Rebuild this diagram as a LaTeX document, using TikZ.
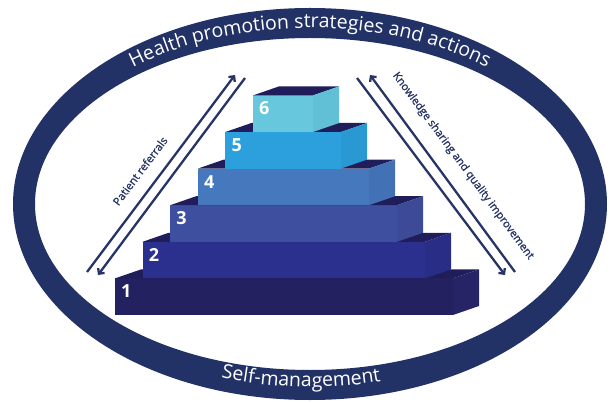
\documentclass[tikz,border=0pt]{standalone}
\usepackage{fontspec}
\setmainfont{Open Sans}
\newfontfamily\labelfont{Open Sans}[FakeBold=1.2]
\usetikzlibrary{arrows.meta,decorations.text}

\definecolor{ringblue}{HTML}{233266}
\definecolor{arrowblue}{HTML}{263466}
\definecolor{topblue}{HTML}{1F1E5A}
\definecolor{face1}{HTML}{23215F}
\definecolor{side1}{HTML}{262466}
\definecolor{face2}{HTML}{2B2F8E}
\definecolor{side2}{HTML}{2A2D86}
\definecolor{face3}{HTML}{3F4FA0}
\definecolor{side3}{HTML}{3C4A98}
\definecolor{face4}{HTML}{4678BD}
\definecolor{side4}{HTML}{4272B5}
\definecolor{face5}{HTML}{2CA0DC}
\definecolor{side5}{HTML}{2A98D3}
\definecolor{face6}{HTML}{67C8DD}
\definecolor{side6}{HTML}{62C0D6}
\newcommand{\ringfont}{\fontsize{19.5}{20}\selectfont}

\begin{document}
\begin{tikzpicture}[x=1pt,y=1pt,
  numstyle/.style={text=white,font=\fontsize{18}{18}\selectfont\bfseries,anchor=west,inner sep=0pt},
  arrowline/.style={draw=arrowblue,line width=2.3pt,-{Straight Barb[length=4pt,width=8pt]}},
  sidetext/.style={text=arrowblue,font=\labelfont\fontsize{11}{12}\selectfont,inner sep=0pt}]
  \useasboundingbox (0,0) rectangle (610,402);

  \coordinate (ring) at (310,198);
  \fill[ringblue,even odd rule] (ring) ellipse [x radius=297,y radius=196]
                                (ring) ellipse [x radius=275,y radius=166];
  \path[decorate,decoration={text along path,text align=center,text color=white,
        text={|\ringfont|Health promotion strategies and actions}}]
    ([shift={(160:281 and 176)}]ring) arc[start angle=160,end angle=20,x radius=281,y radius=176];
  \path[decorate,decoration={text along path,text align=center,text color=white,
        text={|\ringfont|Self-management}}]
    ([shift={(205:285 and 183)}]ring) arc[start angle=205,end angle=330,x radius=285,y radius=183];

  \foreach \i/\front/\side in {1/face1/side1,2/face2/side2,3/face3/side3,
                               4/face4/side4,5/face5/side5,6/face6/side6}
    {\pgfmathsetmacro{\xl}{115+27.6*(\i-1)}
     \pgfmathsetmacro{\xr}{453-28*(\i-1)}
     \pgfmathsetmacro{\yb}{87+36.6*(\i-1)}
     \pgfmathsetmacro{\yt}{\yb+36.6}
     \fill[\front] (\xl,\yb) rectangle (\xr,\yt);
     \fill[topblue] (\xl,\yt) -- (\xl+26,\yt+9) -- (\xr+26,\yt+9) -- (\xr,\yt) -- cycle;
     \fill[\side] (\xr,\yb) -- (\xr,\yt) -- (\xr+26,\yt+9) -- (\xr+26,\yb+9) -- cycle;
     \node[numstyle] (num\i) at (\xl+6,\yt-13) {\i};}

  \coordinate (pa1) at (87,130);  \coordinate (pa2) at (235,327);
  \coordinate (pb1) at (98,127);  \coordinate (pb2) at (245,324);
  \coordinate (ka1) at (515,130); \coordinate (ka2) at (370,327);
  \coordinate (kb1) at (505,127); \coordinate (kb2) at (357,324);
  \draw[arrowline] (pa1) -- (pa2);
  \draw[arrowline] (pb2) -- (pb1);
  \draw[arrowline] (ka1) -- (ka2);
  \draw[arrowline] (kb2) -- (kb1);

  \node[sidetext,rotate=53] (referrals) at (140,231) {Patient referrals};
  \node[sidetext,rotate=-53.5] (knowledge) at (463,236) {Knowledge sharing and quality improvement};
\end{tikzpicture}
\end{document}
